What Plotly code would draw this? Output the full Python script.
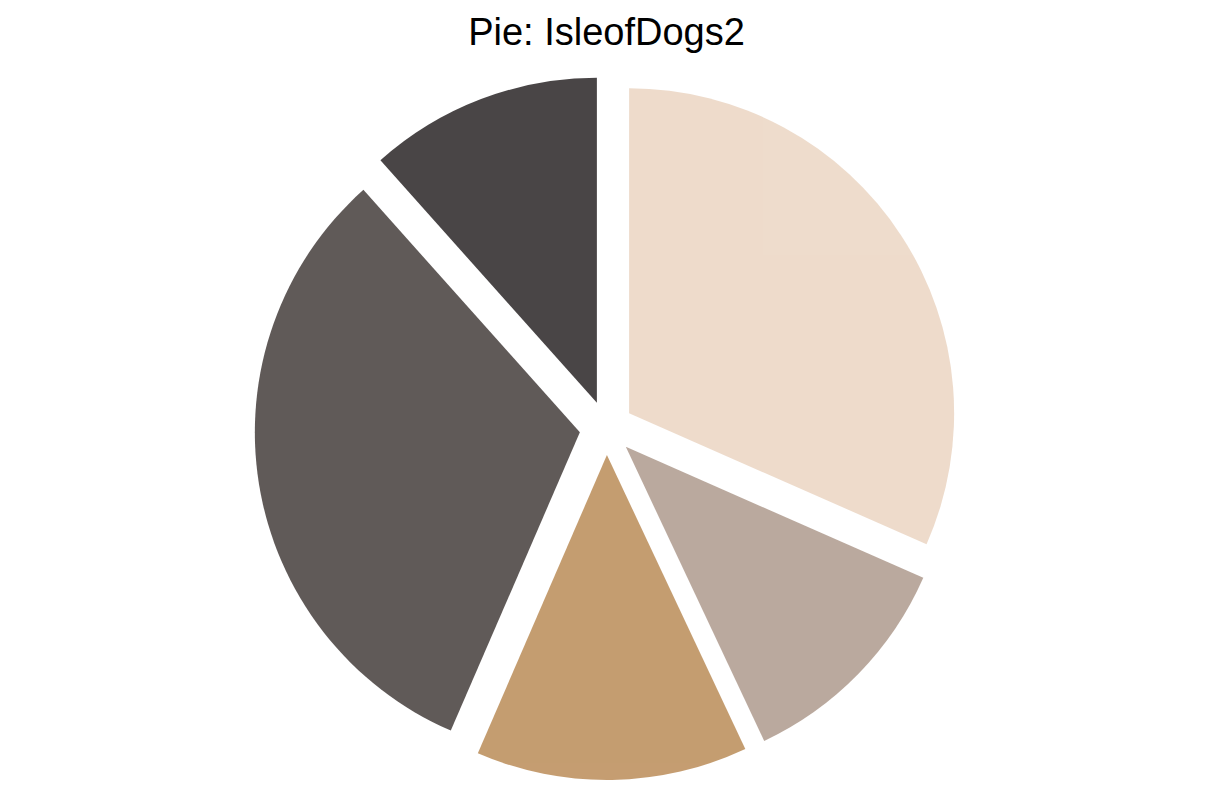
import plotly.graph_objects as go

labels = ["A", "B", "C", "D", "E"]
values = [31.6, 11.4, 13.5, 31.9, 11.6]
colors = ["#EAD3BF", "#AA9486", "#B6854D", "#39312F", "#1C1718"]
pulls = [0.083, 0.083, 0.083, 0.083, 0.083]

fig = go.Figure(go.Pie(
    labels=labels,
    values=values,
    sort=False,
    direction="clockwise",
    rotation=0,
    pull=pulls,
    marker=dict(colors=colors, line=dict(width=0)),
    opacity=0.8,
    textinfo="none",
    hoverinfo="label+percent",
    showlegend=False,
))

fig.update_layout(
    width=1213,
    height=808,
    paper_bgcolor="white",
    plot_bgcolor="white",
    margin=dict(l=20, r=20, t=76, b=28),
    title=dict(text="Pie: IsleofDogs2", x=0.5, xanchor="center", y=0.961, yanchor="middle",
               font=dict(family="Liberation Sans, Arial", size=38, color="black")),
)

fig.write_html("out.html")
